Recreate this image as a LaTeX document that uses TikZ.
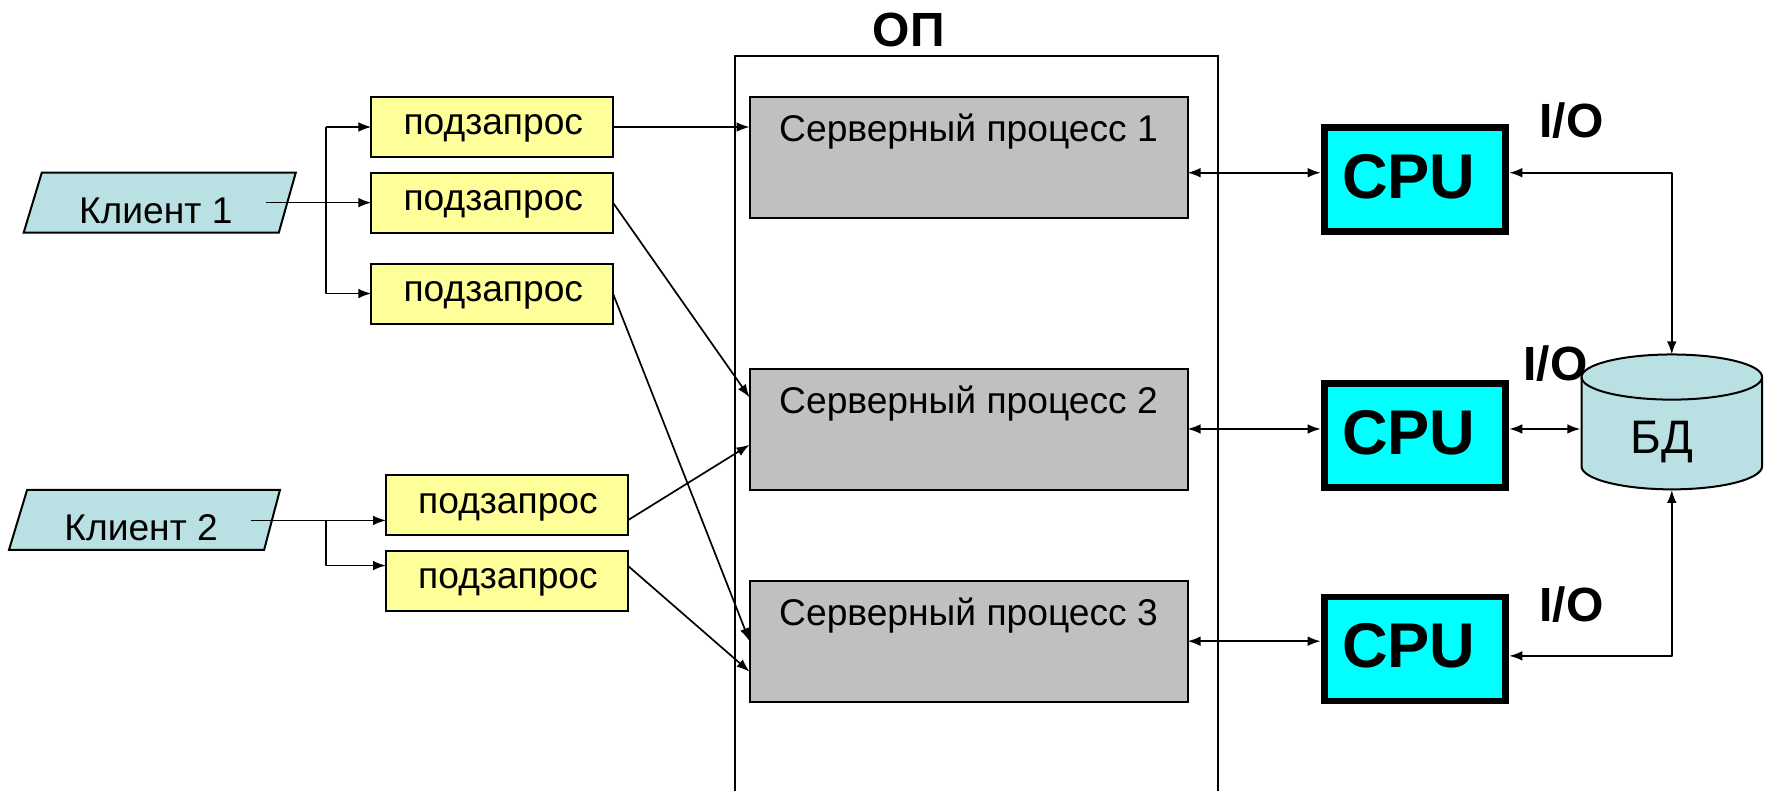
\documentclass[tikz,border=0pt]{standalone}
\usepackage{fontspec}
\setmainfont{Liberation Sans}
\usetikzlibrary{arrows.meta}
\definecolor{clientblue}{HTML}{B9E0E3}
\definecolor{subyellow}{HTML}{FFFF99}
\definecolor{procgray}{HTML}{C0C0C0}
\definecolor{cpucyan}{HTML}{00FFFF}
\tikzset{
  every node/.style={inner sep=0pt,outer sep=0pt},
  subbox/.style={draw=black,line width=1pt,fill=subyellow,minimum width=120.8pt,minimum height=30pt},
  procbox/.style={draw=black,line width=1pt,fill=procgray,minimum width=219pt,minimum height=60.4pt},
  cpubox/.style={draw=black,line width=3.4pt,fill=cpucyan,minimum width=90.5pt,minimum height=52pt},
  txt/.style={font=\fontsize{18.6pt}{20pt}\selectfont,anchor=base},
  dbtxt/.style={font=\fontsize{23.5pt}{26pt}\selectfont,anchor=base},
  boldtxt/.style={font=\fontsize{24pt}{26pt}\selectfont\bfseries,anchor=base},
  cputxt/.style={font=\fontsize{31.6pt}{34pt}\selectfont\bfseries,anchor=base},
  conn/.style={line width=0.85pt,line join=round,-{Latex[length=6.5pt,width=4.8pt]}},
  biconn/.style={line width=0.85pt,line join=round,{Latex[length=6.5pt,width=4.8pt]}-{Latex[length=6.5pt,width=4.8pt]}},
  shapeline/.style={draw=black,line width=1pt,fill=clientblue}
}
\begin{document}
\begin{tikzpicture}[x=0.5645pt,y=-0.5645pt]
\useasboundingbox (0,0) rectangle (1568,701);
% OP frame
\draw[line width=1pt] (651,701) -- (651,50) -- (1079,50) -- (1079,701);
\node[boldtxt] (optxt) at (805,41) {ОП};
% clients
\draw[shapeline] (37,153) -- (262,153) -- (247,206) -- (21,206) -- cycle;
\node[txt] (c1) at (138,198) {Клиент 1};
\draw[shapeline] (24,434) -- (248,434) -- (234,487) -- (8,487) -- cycle;
\node[txt] (c2) at (125,479) {Клиент 2};
% subqueries
\node[subbox] (s1) at (436,112.5) {};
\node[subbox] (s2) at (436,179.5) {};
\node[subbox] (s3) at (436,260) {};
\node[subbox] (s4) at (449,447.5) {};
\node[subbox] (s5) at (449,514.5) {};
\node[txt] (s1t) at (437,119.5) {подзапрос};
\node[txt] (s2t) at (437,186.5) {подзапрос};
\node[txt] (s3t) at (437,267) {подзапрос};
\node[txt] (s4t) at (450,454.5) {подзапрос};
\node[txt] (s5t) at (450,521.5) {подзапрос};
% processes
\node[procbox] (p1) at (858,139.5) {};
\node[procbox] (p2) at (858,380.5) {};
\node[procbox] (p3) at (858,568.5) {};
\node[txt] (p1t) at (858,125) {Серверный процесс 1};
\node[txt] (p2t) at (858,366) {Серверный процесс 2};
\node[txt] (p3t) at (858,554) {Серверный процесс 3};
% CPUs
\node[cpubox] (cpu1) at (1253.5,159) {};
\node[cpubox] (cpu2) at (1253.5,386) {};
\node[cpubox] (cpu3) at (1253.5,575) {};
\node[cputxt] (cpu1t) at (1248,176) {CPU};
\node[cputxt] (cpu2t) at (1248,403) {CPU};
\node[cputxt] (cpu3t) at (1248,591) {CPU};
% I/O
\node[boldtxt] (io1) at (1392,122) {I/O};
\node[boldtxt] (io2) at (1378,337) {I/O};
\node[boldtxt] (io3) at (1392,551) {I/O};
% database
\draw[shapeline] (1401,334) -- (1401,413) arc[start angle=180,end angle=360,x radius=80,y radius=-20.5] -- (1561,334) arc[start angle=0,end angle=-180,x radius=80,y radius=20] -- cycle;
\draw[line width=1pt] (1401,334) arc[start angle=180,end angle=360,x radius=80,y radius=-20];
\node[dbtxt] (db) at (1472,401.5) {БД};
\coordinate (dbtop) at (1481,314);
\coordinate (dbbot) at (1481,434);
\coordinate (dbleft) at (1400,380);
% connector points
\coordinate (c1out) at (236,179.5);
\coordinate (c1j1) at (289,112.5);
\coordinate (c1j2) at (289,260);
\coordinate (c2out) at (222,461);
\coordinate (c2j) at (289,461);
\coordinate (c2k) at (289,501);
\coordinate (s4in) at (342,461);
\coordinate (s5in) at (342,501);
\coordinate (s4out) at (556,461);
\coordinate (s5out) at (556,501);
\coordinate (p1a) at (664,112.5);
\coordinate (p2a) at (664,352);
\coordinate (p2b) at (664,394);
\coordinate (p3a) at (664,568);
\coordinate (p3b) at (664,595);
\coordinate (p1r) at (1052,153);
\coordinate (p2r) at (1052,380);
\coordinate (p3r) at (1052,568);
\coordinate (cpu1l) at (1170,153);
\coordinate (cpu2l) at (1170,380);
\coordinate (cpu3l) at (1170,568);
\coordinate (cpu1r) at (1337,153);
\coordinate (cpu2r) at (1337,380);
\coordinate (cpu3r) at (1337,581);
\coordinate (bus1) at (1481,153);
\coordinate (bus3) at (1481,581);
% connectors
\draw[conn] (c1out) -- (s2.west);
\draw[conn] (c1j1) -- (s1.west);
\draw[conn] (c1j1) -- (c1j2) -- (s3.west);
\draw[conn] (c2out) -- (s4in);
\draw[conn] (c2j) -- (c2k) -- (s5in);
\draw[conn] (s1.east) -- (p1a);
\draw[conn] (s2.east) -- (p2a);
\draw[conn] (s3.east) -- (p3a);
\draw[conn] (s4out) -- (p2b);
\draw[conn] (s5out) -- (p3b);
\draw[biconn] (p1r) -- (cpu1l);
\draw[biconn] (p2r) -- (cpu2l);
\draw[biconn] (p3r) -- (cpu3l);
\draw[biconn] (cpu1r) -- (bus1) -- (dbtop);
\draw[biconn] (cpu2r) -- (dbleft);
\draw[biconn] (cpu3r) -- (bus3) -- (dbbot);
\end{tikzpicture}
\end{document}
